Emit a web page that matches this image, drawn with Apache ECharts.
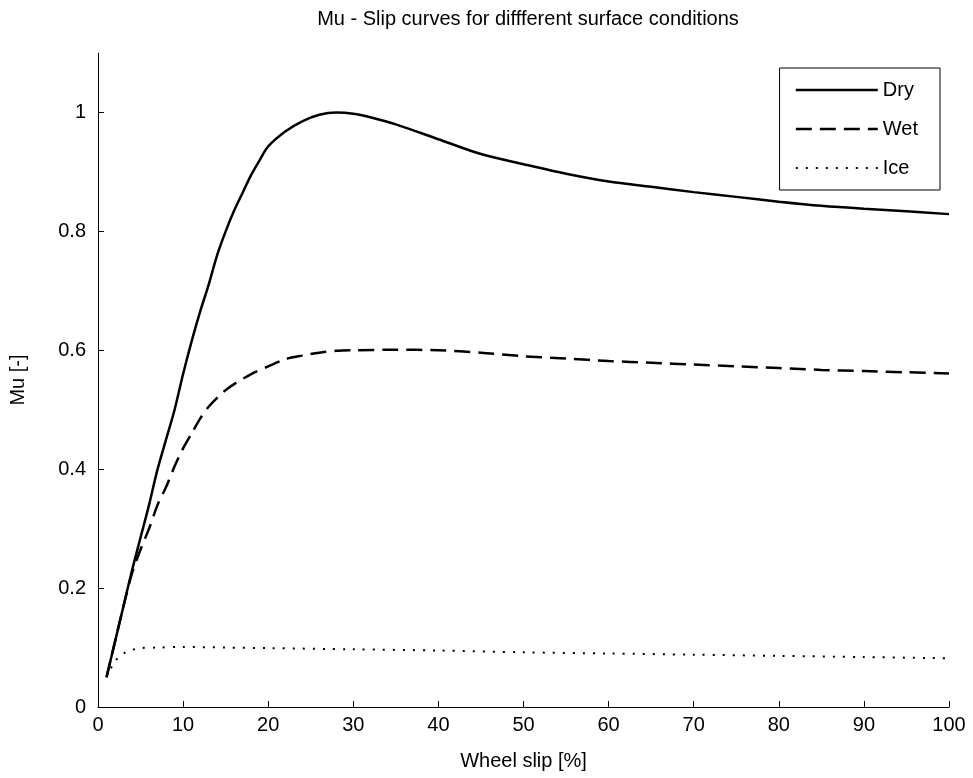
<!DOCTYPE html>
<html>
<head>
<meta charset="utf-8">
<script src="https://cdn.jsdelivr.net/npm/echarts@6/dist/echarts.min.js"></script>
<style>
  html, body { margin: 0; padding: 0; background: #fff; }
  #chart { width: 973px; height: 778px; }
</style>
</head>
<body>
<div id="chart"></div>
<script>
// wheel slip [%] and mu values
var drySlip = [1, 2, 3, 4, 5, 6, 7, 8, 9, 10, 11, 12, 13, 14, 15, 16, 17, 18, 19, 20, 22, 24, 26, 28, 30, 32, 35, 40, 45, 50, 55, 60, 65, 70, 75, 80, 85, 90, 95, 100];
var dryMu = [0.05, 0.11, 0.17, 0.23, 0.285, 0.34, 0.40, 0.45, 0.50, 0.56, 0.615, 0.665, 0.71, 0.76, 0.80, 0.835, 0.865, 0.895, 0.92, 0.943, 0.968, 0.985, 0.996, 1.0, 0.998, 0.992, 0.98, 0.955, 0.93, 0.913, 0.897, 0.884, 0.875, 0.866, 0.858, 0.85, 0.843, 0.838, 0.834, 0.829];

var wetSlip = [1, 2, 3, 4, 5, 6, 7, 8, 9, 10, 11, 12, 13, 14, 15, 16, 18, 20, 22, 24, 26, 28, 30, 35, 40, 45, 50, 55, 60, 65, 70, 75, 80, 85, 90, 95, 100];
var wetMu = [0.05, 0.11, 0.17, 0.225, 0.265, 0.30, 0.34, 0.37, 0.405, 0.435, 0.46, 0.485, 0.505, 0.52, 0.533, 0.543, 0.56, 0.573, 0.585, 0.591, 0.596, 0.599, 0.6, 0.601, 0.6, 0.596, 0.59, 0.586, 0.582, 0.579, 0.576, 0.573, 0.57, 0.567, 0.565, 0.563, 0.561];

var iceSlip = [1, 2, 3, 4, 5, 7, 10, 15, 20, 30, 40, 50, 60, 70, 80, 90, 100];
var iceMu = [0.05, 0.077, 0.09, 0.096, 0.099, 0.1, 0.101, 0.1, 0.099, 0.097, 0.095, 0.092, 0.09, 0.088, 0.086, 0.084, 0.082];

var xTicks = [0, 10, 20, 30, 40, 50, 60, 70, 80, 90, 100];
var yTicks = [0, 0.2, 0.4, 0.6, 0.8, 1];

function pairs(xs, ys) {
    return xs.map(function (x, i) { return [x, ys[i]]; });
}

var font = "'Liberation Sans', Arial, sans-serif";
var fs = 20;

var chart = echarts.init(document.getElementById('chart'));
chart.setOption({
    animation: false,
    textStyle: { fontFamily: font, color: '#000' },
    title: {
        text: 'Mu - Slip curves for diffferent surface conditions',
        left: 523,
        textAlign: 'center',
        top: 4,
        textStyle: { fontFamily: font, fontSize: fs, fontWeight: 'normal', color: '#000' }
    },
    grid: { left: 97, right: 24, top: 53, bottom: 71 },
    legend: {
        orient: 'vertical',
        right: 33,
        top: 68,
        borderColor: '#000',
        borderWidth: 1,
        padding: [12, 22, 12, 15],
        itemWidth: 82,
        itemHeight: 14,
        itemGap: 19,
        itemStyle: { color: 'transparent', borderWidth: 0 },
        textStyle: { fontFamily: font, fontSize: fs, color: '#000' },
        data: [
            { name: 'Dry', lineStyle: { width: 2.5 } },
            { name: 'Wet', lineStyle: { width: 2.5 } },
            { name: 'Ice', lineStyle: { width: 2 } }
        ]
    },
    xAxis: {
        type: 'value',
        min: 0,
        max: 100,
        interval: 10,
        name: 'Wheel slip [%]',
        nameLocation: 'middle',
        nameGap: 44,
        nameTextStyle: { fontFamily: font, fontSize: fs, color: '#000' },
        axisLine: { lineStyle: { color: '#000', width: 1 } },
        axisTick: { inside: true, length: 6, lineStyle: { color: '#000' } },
        axisLabel: {
            fontFamily: font, fontSize: fs, color: '#000', margin: 8,
            formatter: function (v) { return xTicks.indexOf(v) >= 0 ? String(v) : ''; }
        },
        splitLine: { show: false }
    },
    yAxis: {
        type: 'value',
        min: 0,
        max: 1.1,
        interval: 0.2,
        name: 'Mu [-]',
        nameLocation: 'middle',
        nameGap: 70,
        nameTextStyle: { fontFamily: font, fontSize: fs, color: '#000' },
        axisLine: { show: true, lineStyle: { color: '#000', width: 1 } },
        axisTick: { show: true, inside: true, length: 6, lineStyle: { color: '#000' } },
        axisLabel: {
            fontFamily: font, fontSize: fs, color: '#000', margin: 12,
            showMaxLabel: false,
            formatter: function (v) {
                var r = Math.round(v * 10) / 10;
                return yTicks.indexOf(r) >= 0 ? String(r) : '';
            }
        },
        splitLine: { show: false }
    },
    series: [
        {
            name: 'Dry',
            type: 'line',
            symbol: 'none',
            smooth: 0.3,
            data: pairs(drySlip, dryMu),
            lineStyle: { color: '#000', width: 2.5, type: 'solid' },
            itemStyle: { color: '#000' }
        },
        {
            name: 'Wet',
            type: 'line',
            symbol: 'none',
            smooth: 0.3,
            data: pairs(wetSlip, wetMu),
            lineStyle: { color: '#000', width: 2.5, type: [16, 8] },
            itemStyle: { color: '#000' }
        },
        {
            name: 'Ice',
            type: 'line',
            symbol: 'none',
            smooth: 0.3,
            data: pairs(iceSlip, iceMu),
            lineStyle: { color: '#000', width: 2, type: [2, 8] },
            itemStyle: { color: '#000' }
        }
    ]
});
</script>
</body>
</html>
